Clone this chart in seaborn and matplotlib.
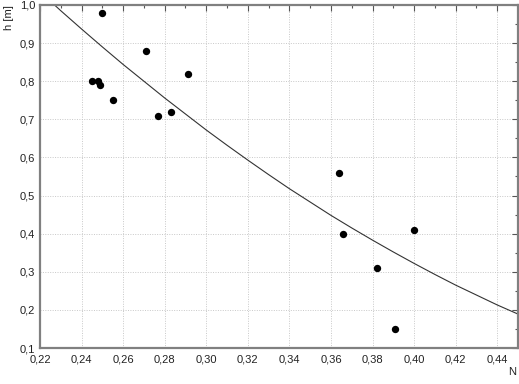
import matplotlib
matplotlib.use("Agg")
import matplotlib.pyplot as plt
import seaborn as sns
import pandas as pd
from matplotlib.ticker import MultipleLocator, FuncFormatter

# Data points
n_vals = [0.245, 0.248, 0.249, 0.250, 0.255, 0.271, 0.277, 0.283, 0.291,
          0.364, 0.366, 0.382, 0.391, 0.400]
h_vals = [0.80, 0.80, 0.79, 0.98, 0.75, 0.88, 0.71, 0.72, 0.82,
          0.56, 0.40, 0.31, 0.15, 0.41]

# Fitted curve
curve_n = [0.227, 0.23, 0.24, 0.25, 0.26, 0.27, 0.28, 0.29, 0.30, 0.31, 0.32,
           0.33, 0.34, 0.35, 0.36, 0.37, 0.38, 0.39, 0.40, 0.41, 0.42, 0.43,
           0.44, 0.45]
curve_h = [1.000, 0.985, 0.937, 0.890, 0.844, 0.800, 0.756, 0.714, 0.672,
           0.632, 0.593, 0.555, 0.518, 0.483, 0.448, 0.415, 0.383, 0.352,
           0.322, 0.293, 0.265, 0.239, 0.213, 0.189]

x_label = "N"
y_label = "h [m]"

sns.set_style("white")
plt.rcParams['font.family'] = ['Liberation Sans', 'DejaVu Sans']

fig = plt.figure(figsize=(5.19, 3.84), dpi=100)
ax = fig.add_axes([40/519, 1 - 348/384, 478/519, 343/384])

pts = pd.DataFrame({"N": n_vals, "h": h_vals})
cur = pd.DataFrame({"N": curve_n, "h": curve_h})

sns.lineplot(data=cur, x="N", y="h", ax=ax, color="#333333", lw=0.8,
             sort=False, estimator=None)
sns.scatterplot(data=pts, x="N", y="h", ax=ax, color="black", s=28,
                edgecolor="black", linewidth=0, zorder=3)

ax.set_xlim(0.22, 0.45)
ax.set_ylim(0.1, 1.0)
ax.xaxis.set_major_locator(MultipleLocator(0.02))
ax.xaxis.set_minor_locator(MultipleLocator(0.01))
ax.yaxis.set_major_locator(MultipleLocator(0.1))
ax.yaxis.set_minor_locator(MultipleLocator(0.05))
ax.xaxis.set_major_formatter(FuncFormatter(lambda v, p: f"{v:.2f}".replace(".", ",")))
ax.yaxis.set_major_formatter(FuncFormatter(lambda v, p: f"{v:.1f}".replace(".", ",")))

ax.grid(True, which="major", color="#c8c8c8", linestyle=(0, (1, 1.5)), lw=0.7)
for s in ax.spines.values():
    s.set_color("#808080")
    s.set_linewidth(1.6)
ax.tick_params(which="both", direction="in", top=True, right=True,
               color="#555555", labelsize=8, labelcolor="#222222")
ax.tick_params(which="major", length=4, width=0.8)
ax.tick_params(which="minor", length=2.5, width=0.8)
ax.tick_params(axis="x", pad=5)

ax.set_xlabel("")
ax.set_ylabel("")
fig.text(512/519, 1 - 372/384, x_label, fontsize=8, color="#222222",
         ha="center", va="center")
fig.text(9/519, 1 - 18/384, y_label, fontsize=8, color="#222222",
         ha="center", va="center", rotation=90)

fig.savefig("out.png", dpi=100)
